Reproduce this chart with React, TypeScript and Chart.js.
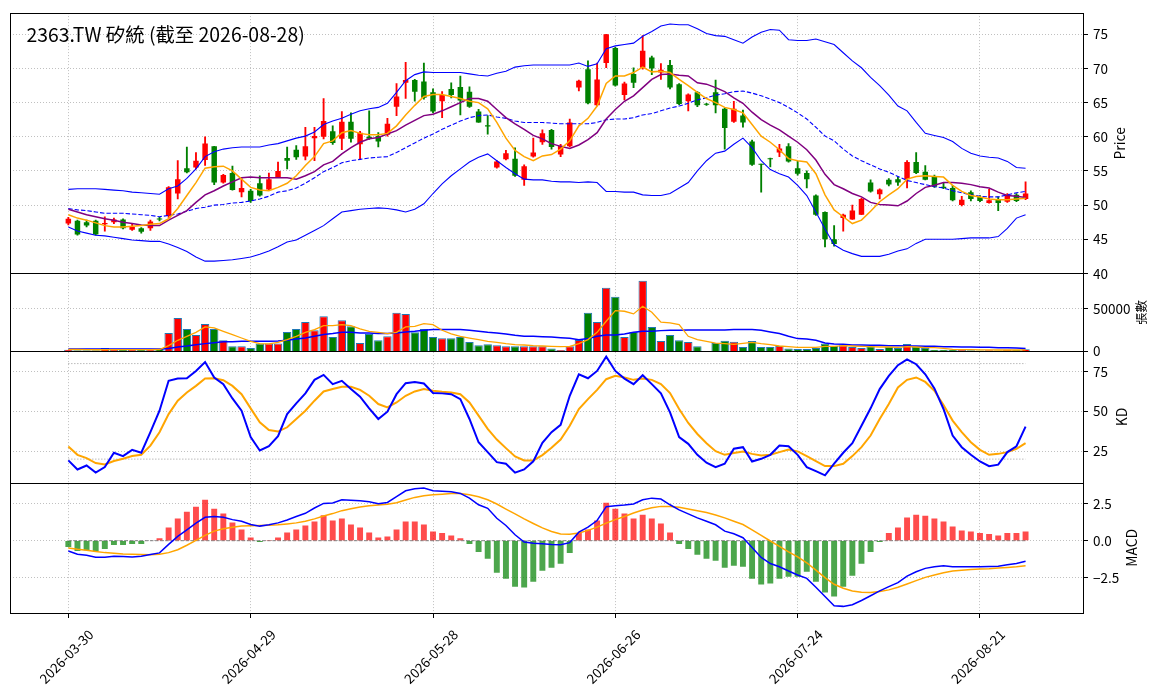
import { useEffect, useRef } from 'react';
import { Chart, registerables } from 'chart.js';

Chart.register(...registerables);

const FONT = '"Noto Sans CJK TC", "Noto Sans", sans-serif';
const GRID = '#b0b0b0';
const UP = '#ff0000';
const DOWN = '#008000';

const title = '2363.TW 矽統 (截至 2026-08-28)';
const dateTicks = [0, 20, 40, 60, 80, 100];
const dateLabels = ['2026-03-30', '2026-04-29', '2026-05-28', '2026-06-26', '2026-07-24', '2026-08-21'];

const priceTicks = [40, 45, 50, 55, 60, 65, 70, 75];
const volumeTicks = [0, 50000];
const kdTicks = [25, 50, 75];
const kdBands = [20, 80];
const macdTicks = [-2.5, 0, 2.5];

const open = [
  47.3, 47.7, 47.5, 47.7, 47.2, 47.5, 47.9, 46.4, 46.6, 46.6, 48.0,
  48.4, 51.7, 55.4, 55.5, 56.6, 58.6, 53.3, 54.7, 51.9, 52.1,
  53.2, 52.3, 54.1, 56.9, 58.1, 57.1, 59.8, 60.0, 60.8, 59.7,
  62.2, 58.9, 60.0, 60.1, 60.3, 64.4, 67.9, 68.3, 68.1, 66.5,
  65.2, 67.0, 67.3, 66.6, 63.7, 61.7, 55.5, 56.7, 56.8, 53.7,
  57.1, 59.2, 61.0, 57.4, 58.6, 67.2, 69.9, 64.6, 70.8, 73.0,
  66.1, 69.2, 70.1, 71.6, 69.4, 70.5, 67.7, 65.2, 66.5, 64.8,
  66.5, 64.1, 62.2, 63.1, 59.3, 56.0, 56.8, 57.7, 58.6, 55.4,
  54.7, 51.4, 49.0, 45.0, 48.1, 47.9, 48.6, 53.3, 51.6, 53.7,
  53.8, 53.8, 56.3, 54.9, 54.2, 52.7, 52.5, 50.0, 51.9, 51.2,
  50.3, 50.9, 50.5, 51.5, 50.9,
];
const high = [
  48.2, 47.8, 47.8, 47.8, 48.3, 48.1, 48.0, 47.3, 46.7, 47.8, 48.2,
  52.7, 56.5, 58.5, 57.7, 60.0, 58.6, 54.5, 55.7, 53.9, 52.3,
  54.3, 54.7, 56.3, 58.5, 58.7, 61.4, 61.4, 65.6, 61.6, 63.7,
  63.5, 60.8, 63.8, 60.6, 62.7, 67.8, 70.9, 68.4, 70.8, 67.0,
  66.6, 67.9, 68.9, 67.3, 64.0, 63.1, 56.5, 58.0, 58.4, 55.9,
  59.8, 61.0, 61.1, 58.9, 62.6, 68.3, 71.1, 70.8, 75.0, 73.1,
  68.0, 70.1, 74.8, 71.8, 70.7, 71.2, 67.8, 66.3, 66.6, 64.9,
  68.3, 64.2, 65.2, 63.9, 59.5, 56.0, 56.9, 58.9, 59.0, 56.4,
  55.0, 51.5, 49.0, 47.0, 48.7, 50.0, 51.0, 53.7, 52.4, 53.9,
  54.1, 56.5, 57.7, 55.8, 54.4, 53.3, 52.9, 51.3, 52.1, 51.4,
  52.3, 51.2, 51.7, 51.7, 53.4,
];
const low = [
  47.1, 45.6, 46.8, 45.6, 46.2, 47.3, 46.5, 46.3, 45.9, 46.3, 47.7,
  48.2, 50.9, 54.7, 55.3, 55.8, 53.0, 53.2, 52.2, 51.2, 50.4,
  51.3, 52.2, 54.0, 55.3, 56.7, 56.6, 56.5, 59.7, 58.9, 58.1,
  59.2, 56.7, 59.6, 58.5, 60.1, 63.1, 65.6, 65.2, 65.5, 63.5,
  62.8, 65.7, 63.2, 64.3, 62.1, 60.4, 55.4, 56.6, 54.2, 52.9,
  57.0, 58.9, 58.2, 57.1, 58.5, 66.7, 64.8, 64.5, 70.1, 67.4,
  65.4, 67.2, 69.9, 69.1, 68.4, 67.0, 64.7, 63.8, 64.4, 64.6,
  63.5, 58.2, 62.1, 61.4, 55.8, 51.9, 55.6, 57.1, 56.3, 54.4,
  52.5, 48.5, 43.9, 44.0, 46.2, 47.9, 48.6, 51.9, 50.9, 52.8,
  52.9, 52.5, 54.6, 53.7, 52.6, 52.4, 50.6, 49.9, 50.6, 50.5,
  50.3, 49.2, 50.4, 50.5, 50.8,
];
const close = [
  48.0, 45.7, 47.0, 45.7, 47.4, 47.9, 46.6, 46.8, 46.1, 47.6, 47.9,
  52.6, 53.8, 54.8, 56.5, 59.0, 53.3, 54.4, 52.2, 52.5, 50.6,
  51.4, 53.8, 55.0, 56.5, 57.0, 58.6, 60.1, 62.3, 59.1, 62.2,
  59.7, 60.6, 59.7, 59.3, 61.9, 65.9, 68.3, 66.6, 65.7, 63.7,
  66.1, 66.1, 65.3, 64.4, 62.1, 61.5, 56.4, 57.6, 54.3, 55.7,
  57.7, 60.5, 58.5, 58.7, 62.1, 68.2, 64.9, 68.4, 75.0, 67.5,
  67.8, 67.9, 72.6, 70.0, 69.8, 67.2, 64.8, 66.2, 64.6, 64.7,
  64.6, 61.3, 64.1, 62.1, 55.9, 55.9, 56.7, 58.3, 56.4, 54.6,
  53.8, 48.6, 45.0, 44.3, 48.6, 49.2, 50.9, 52.0, 52.3, 53.0,
  53.3, 56.3, 54.7, 53.7, 52.7, 52.5, 50.7, 50.8, 50.9, 50.6,
  50.7, 50.3, 51.4, 50.6, 51.7,
];

const ma5 = [
  48.6, 48.1, 47.8, 47.4, 47.0, 46.8, 46.8, 46.9, 47.0, 47.2, 47.3,
  48.0, 49.5, 51.4, 53.3, 55.4, 55.6, 55.7, 55.0, 53.8, 52.6,
  52.2, 52.1, 52.6, 53.2, 54.3, 55.8, 57.1, 59.0, 59.4, 60.6,
  60.9, 60.5, 60.3, 60.3, 60.5, 61.6, 63.2, 64.6, 65.9, 66.2,
  66.2, 65.9, 65.6, 65.2, 65.0, 64.1, 62.1, 59.8, 58.0, 57.1,
  56.5, 57.2, 57.4, 58.2, 59.4, 61.6, 62.7, 64.5, 67.8, 68.9,
  68.9, 69.4, 70.2, 69.5, 69.6, 69.4, 68.4, 67.5, 66.5, 65.6,
  65.0, 64.3, 64.0, 63.5, 61.8, 60.1, 59.2, 58.1, 56.8, 56.5,
  56.3, 54.6, 51.5, 49.3, 48.3, 47.3, 47.8, 49.1, 50.5, 51.5,
  52.4, 53.8, 54.2, 54.3, 54.2, 54.1, 52.9, 52.0, 51.4, 51.2,
  50.9, 50.8, 50.8, 50.9, 51.0,
];
const ma10 = [
  49.4, 49.0, 48.6, 48.3, 48.0, 47.8, 47.5, 47.3, 47.1, 47.0, 47.0,
  47.8, 48.5, 49.2, 50.4, 51.5, 52.1, 52.8, 53.4, 54.0, 54.1,
  54.0, 54.0, 54.0, 54.0, 53.8, 54.3, 54.9, 55.9, 56.4, 57.5,
  58.4, 59.2, 59.7, 59.9, 60.4, 60.9, 61.7, 62.4, 63.1, 63.3,
  63.8, 64.4, 65.0, 65.6, 65.6, 65.2, 64.0, 62.8, 61.9, 61.1,
  60.2, 59.7, 59.0, 58.6, 58.3, 58.8, 59.6, 60.6, 62.6, 64.0,
  65.2, 66.0, 67.2, 68.4, 69.1, 69.2, 69.0, 68.9, 67.9, 67.7,
  67.2, 66.6, 65.7, 64.9, 63.6, 62.5, 61.7, 61.0, 60.1, 59.2,
  58.1, 56.6, 54.5, 53.0, 52.4, 51.7, 51.2, 50.4, 50.1, 50.0,
  49.9, 50.6, 51.7, 52.6, 52.9, 53.3, 53.3, 53.2, 53.0, 52.7,
  52.5, 51.9, 51.4, 51.3, 51.1,
];
const bbUpper = [
  52.3, 52.4, 52.4, 52.4, 52.3, 52.2, 52.1, 51.9, 51.8, 51.7, 51.6,
  52.4, 52.8, 53.9, 55.3, 57.1, 57.8, 58.2, 58.4, 58.5, 58.5,
  58.5, 58.8, 59.0, 59.4, 59.8, 60.1, 60.7, 61.8, 62.3, 62.7,
  63.3, 63.8, 64.1, 64.3, 64.9, 66.5, 68.2, 69.1, 69.5, 69.4,
  69.4, 69.4, 69.4, 69.2, 69.0, 68.9, 69.3, 69.6, 70.2, 70.4,
  70.5, 70.5, 70.5, 70.5, 70.5, 70.8, 70.3, 70.7, 72.9, 73.3,
  73.5, 73.7, 74.7, 75.4, 76.2, 76.5, 76.4, 76.4, 75.8, 75.1,
  74.8, 74.7, 74.2, 73.7, 74.6, 75.3, 75.7, 75.6, 74.2, 74.1,
  74.1, 74.3, 73.9, 73.5, 72.3, 71.1, 70.1, 68.7, 67.5, 66.1,
  64.5, 63.8, 62.1, 60.5, 60.2, 59.9, 59.3, 58.3, 57.6, 57.2,
  57.0, 56.9, 56.4, 55.5, 55.4,
];
const bbMid = [
  49.5, 49.3, 49.2, 49.0, 48.8, 48.8, 48.8, 48.7, 48.6, 48.5, 48.3,
  48.5, 48.7, 49.1, 49.5, 49.7, 50.0, 50.1, 50.3, 50.4, 50.6,
  50.9, 51.3, 51.9, 52.1, 52.5, 53.2, 54.0, 54.9, 55.5, 56.2,
  56.5, 56.7, 56.9, 57.0, 57.1, 57.7, 58.4, 59.1, 59.8, 60.4,
  61.1, 61.7, 62.3, 62.8, 63.1, 63.2, 62.9, 62.7, 62.3, 62.1,
  62.1, 62.1, 62.0, 61.9, 61.9, 61.9, 61.9, 62.1, 62.5, 62.6,
  62.6, 62.8, 63.2, 63.4, 63.8, 64.2, 64.5, 64.9, 65.4, 65.7,
  66.1, 66.3, 66.6, 66.7, 66.4, 66.0, 65.5, 65.0, 64.3, 63.5,
  62.6, 61.4, 60.1, 59.4, 58.2, 57.2, 56.5, 55.9, 55.3, 54.8,
  54.2, 53.6, 53.3, 53.0, 52.7, 52.5, 52.1, 51.8, 51.5, 51.3,
  51.2, 51.2, 51.5, 51.8, 52.0,
];
const bbLower = [
  46.8, 46.2, 45.9, 45.6, 45.5, 45.3, 45.1, 44.9, 44.8, 44.7, 44.7,
  44.3, 43.8, 43.2, 42.4, 41.8, 41.8, 41.9, 42.0, 42.2, 42.4,
  42.8, 43.3, 43.9, 44.6, 44.9, 45.6, 46.3, 47.0, 48.0, 49.0,
  49.2, 49.4, 49.5, 49.6, 49.5, 49.3, 49.0, 49.4, 50.2, 51.7,
  53.1, 54.3, 55.3, 56.3, 57.0, 57.5, 56.5, 55.5, 54.6, 53.8,
  53.7, 53.7, 53.5, 53.4, 53.4, 53.3, 53.4, 53.3, 52.0, 52.0,
  51.9, 51.9, 51.5, 51.4, 51.4, 51.7, 52.5, 53.3, 55.0, 56.5,
  57.6, 57.9, 58.9, 59.8, 58.4, 56.5, 55.2, 54.6, 54.1, 52.9,
  51.4, 49.0, 46.5, 44.2, 43.4, 42.9, 42.5, 42.5, 42.5, 42.8,
  43.3, 43.6, 44.4, 45.0, 45.0, 45.0, 45.0, 45.1, 45.2, 45.2,
  45.2, 45.4, 46.6, 48.1, 48.6,
];

const volume = [
  2000, 1200, 1200, 1200, 3900, 2000, 2000, 2000, 2000, 2000, 2800,
  21700, 39400, 26400, 19300, 32300, 26400, 13000, 5900, 5900, 3900,
  9100, 9100, 9100, 22800, 26400, 34600, 24800, 41300, 16900, 36600,
  29500, 9800, 20500, 13000, 17700, 45300, 44100, 22400, 26400, 16900,
  15400, 15400, 16900, 11000, 7100, 8300, 7100, 5900, 5900, 5900,
  5900, 5900, 3500, 1600, 5900, 13400, 45300, 34600, 74800, 64200,
  16900, 22800, 83100, 28700, 12200, 19300, 13000, 11000, 5900, 400,
  9800, 12600, 11400, 5100, 12200, 5100, 5100, 6300, 3500, 2800,
  2800, 3900, 9100, 6300, 7100, 5100, 3900, 5900, 2800, 5100,
  3900, 8700, 5900, 3900, 2000, 2000, 2000, 1500, 1200, 1000,
  1300, 1100, 1800, 1500, 2500,
];
const volMa5 = [
  2400, 2200, 2000, 1900, 1900, 2000, 2000, 2100, 2100, 2000, 2200,
  6700, 13000, 17700, 22400, 28700, 27600, 23600, 19700, 15700, 11800,
  9100, 8700, 10600, 13800, 17700, 22400, 25600, 30300, 30300, 31500,
  30300, 26400, 23600, 22400, 20900, 22400, 28700, 29500, 32700, 31500,
  24800, 20500, 17700, 15700, 13800, 11800, 10600, 9100, 7900, 7500,
  6700, 6300, 5900, 5500, 5900, 9100, 13800, 22400, 35400, 48000,
  47200, 44100, 53100, 46100, 34300, 33500, 31500, 17700, 13800, 11800,
  9800, 9100, 8300, 9400, 10600, 9100, 7900, 6300, 5500, 4700,
  4700, 4700, 5900, 5900, 6700, 6300, 5900, 5500, 5100, 5100,
  4700, 5500, 5100, 4300, 4300, 3500, 2400, 2000, 2000, 1800,
  1700, 1600, 1600, 1600, 1700,
];
const volMa20 = [
  2800, 2800, 2800, 2700, 2700, 2700, 2700, 2700, 2700, 2800, 2800,
  3500, 5100, 6300, 7900, 9100, 10200, 11400, 11400, 11800, 11800,
  11800, 11800, 12200, 13000, 14600, 15700, 17700, 19700, 20900, 22400,
  22400, 21700, 21700, 20900, 20900, 21700, 22800, 23600, 24800, 25600,
  25600, 25600, 25600, 24800, 23600, 22400, 21700, 20500, 18900, 17700,
  17700, 17300, 16900, 16100, 15400, 13800, 15000, 17700, 19300, 19300,
  20500, 22400, 23600, 23600, 24400, 24800, 24800, 25200, 25200, 25200,
  25200, 25200, 25600, 25600, 25600, 24800, 22800, 20900, 17700, 15000,
  14600, 13000, 9800, 8700, 8300, 7500, 7500, 7100, 7100, 6700,
  6700, 6300, 6300, 5900, 5900, 5500, 5500, 5100, 5100, 4700,
  4700, 4300, 4300, 3900, 3500,
];

const kLine = [
  19.2, 13.5, 16.0, 11.5, 15.0, 24.0, 21.9, 25.8, 24.0, 36.9, 50.4,
  69.2, 70.6, 70.8, 75.4, 81.0, 71.3, 67.1, 58.1, 50.4, 33.8,
  25.4, 28.1, 34.4, 48.3, 55.0, 61.3, 69.8, 72.9, 67.1, 69.2,
  64.0, 59.2, 51.9, 45.2, 49.8, 60.8, 67.7, 68.5, 67.5, 61.5,
  61.3, 60.8, 57.7, 45.2, 30.6, 24.4, 18.1, 17.1, 11.5, 13.5,
  18.6, 30.2, 36.9, 41.5, 59.8, 73.3, 70.8, 75.4, 84.4, 75.4,
  70.6, 67.1, 72.7, 67.1, 61.3, 49.4, 33.8, 29.6, 22.7, 17.7,
  15.0, 17.1, 26.5, 27.5, 18.5, 20.2, 22.7, 28.5, 28.1, 22.7,
  15.0, 12.5, 9.8, 17.1, 24.0, 30.0, 41.0, 51.9, 64.0, 72.3,
  79.0, 82.7, 79.6, 73.3, 64.4, 51.5, 34.8, 27.5, 22.7, 18.5,
  15.6, 16.5, 24.4, 28.1, 40.4,
];
const dLine = [
  27.9, 22.7, 20.6, 17.5, 16.7, 18.8, 20.2, 21.9, 22.7, 28.5, 36.9,
  48.3, 56.7, 61.9, 66.0, 70.6, 70.8, 69.6, 66.0, 60.8, 51.9,
  43.1, 38.3, 37.3, 40.0, 45.2, 50.4, 56.7, 62.5, 64.0, 65.4,
  65.4, 63.5, 59.8, 54.6, 52.5, 55.6, 59.8, 62.5, 64.0, 62.9,
  62.3, 61.9, 60.8, 55.6, 47.3, 39.0, 32.3, 26.9, 21.7, 19.2,
  19.2, 22.5, 27.1, 32.3, 41.0, 51.5, 57.7, 63.5, 70.2, 72.3,
  71.3, 69.8, 70.6, 69.8, 67.1, 61.5, 51.5, 42.7, 35.8, 30.0,
  25.0, 22.7, 23.8, 24.8, 23.3, 22.3, 22.7, 24.4, 26.0, 24.8,
  21.9, 18.8, 15.6, 15.6, 17.1, 21.9, 27.5, 34.8, 45.2, 54.6,
  65.0, 69.8, 71.3, 68.5, 62.9, 54.0, 44.2, 36.9, 30.6, 25.8,
  22.7, 23.3, 24.4, 26.5, 30.0,
];

const macdHist = [
  -0.43, -0.70, -0.65, -0.72, -0.56, -0.29, -0.29, -0.22, -0.22, -0.02, 0.16,
  0.90, 1.50, 1.97, 2.31, 2.78, 2.17, 1.84, 1.23, 0.76, 0.22,
  -0.09, 0.02, 0.22, 0.56, 0.76, 1.03, 1.30, 1.73, 1.37, 1.50,
  1.10, 0.90, 0.56, 0.22, 0.29, 0.76, 1.30, 1.30, 1.10, 0.63,
  0.52, 0.36, 0.16, -0.22, -0.76, -1.23, -2.17, -2.58, -3.12, -3.18,
  -2.78, -2.04, -1.84, -1.57, -0.83, 0.52, 0.76, 1.37, 2.58, 2.17,
  1.84, 1.50, 1.77, 1.50, 1.17, 0.56, -0.22, -0.56, -0.96, -1.23,
  -1.37, -1.84, -1.70, -1.77, -2.58, -2.98, -2.91, -2.58, -2.44, -2.44,
  -2.11, -2.78, -3.52, -3.79, -3.12, -2.38, -1.57, -0.76, -0.09, 0.52,
  0.90, 1.57, 1.77, 1.70, 1.50, 1.30, 0.96, 0.70, 0.63, 0.52,
  0.45, 0.36, 0.52, 0.52, 0.63,
];
const dif = [
  -0.70, -0.92, -0.99, -1.12, -1.12, -1.05, -1.08, -1.10, -1.05, -0.94, -0.83,
  -0.25, 0.29, 0.74, 1.19, 1.59, 1.64, 1.59, 1.43, 1.32, 1.10,
  0.99, 1.08, 1.21, 1.41, 1.64, 1.86, 2.22, 2.53, 2.56, 2.78,
  2.74, 2.71, 2.65, 2.51, 2.60, 3.00, 3.39, 3.52, 3.57, 3.39,
  3.36, 3.32, 3.21, 2.89, 2.44, 2.20, 1.52, 1.03, 0.40, -0.09,
  -0.18, -0.20, -0.25, -0.27, -0.13, 0.58, 0.92, 1.37, 2.31, 2.38,
  2.42, 2.49, 2.78, 2.89, 2.83, 2.44, 2.09, 1.82, 1.55, 1.32,
  1.08, 0.65, 0.47, 0.20, -0.47, -1.14, -1.55, -1.77, -2.06, -2.33,
  -2.56, -3.16, -3.79, -4.42, -4.46, -4.35, -4.06, -3.74, -3.41, -3.12,
  -2.85, -2.40, -2.11, -1.88, -1.77, -1.70, -1.77, -1.77, -1.77, -1.77,
  -1.75, -1.73, -1.64, -1.55, -1.39,
];
const dea = [
  -0.49, -0.58, -0.65, -0.74, -0.81, -0.85, -0.90, -0.92, -0.94, -0.96, -0.92,
  -0.81, -0.61, -0.31, 0.02, 0.36, 0.65, 0.81, 0.92, 0.99, 1.01,
  1.03, 1.05, 1.08, 1.14, 1.21, 1.32, 1.48, 1.68, 1.84, 2.04,
  2.17, 2.29, 2.38, 2.42, 2.47, 2.58, 2.76, 2.94, 3.05, 3.12,
  3.16, 3.21, 3.21, 3.12, 2.98, 2.78, 2.49, 2.15, 1.82, 1.48,
  1.17, 0.87, 0.63, 0.45, 0.43, 0.52, 0.70, 0.92, 1.19, 1.43,
  1.64, 1.88, 2.09, 2.24, 2.33, 2.33, 2.27, 2.15, 2.04, 1.91,
  1.75, 1.55, 1.32, 1.10, 0.74, 0.36, -0.02, -0.38, -0.76, -1.10,
  -1.50, -2.00, -2.51, -2.96, -3.23, -3.41, -3.50, -3.52, -3.45, -3.34,
  -3.16, -2.94, -2.71, -2.49, -2.33, -2.17, -2.06, -2.00, -1.95, -1.93,
  -1.91, -1.86, -1.82, -1.77, -1.70,
];

const points = (arr: number[]) => arr.map((y, x) => ({ x, y }));
const lastIndex = open.length - 1;
const flat = (v: number) => [{ x: 0, y: v }, { x: lastIndex, y: v }];

const lineSet = (data: number[], yAxisID: string, color: string, width: number, dash: number[] = []) => ({
  type: 'line' as const,
  data: points(data),
  yAxisID,
  borderColor: color,
  borderWidth: width,
  borderDash: dash,
  pointRadius: 0,
  tension: 0,
  fill: false,
  order: 0,
});

const yScale = (weight: number, min: number, max: number, ticks: number[], fmt: (v: number) => string) => ({
  type: 'linear' as const,
  position: 'right' as const,
  stack: 'panels',
  stackWeight: weight,
  min,
  max,
  afterBuildTicks: (s: any) => {
    s.ticks = ticks.map((value) => ({ value }));
  },
  afterFit: (s: any) => {
    s.width = 80;
  },
  grid: { color: GRID, lineWidth: 0.8, tickLength: 5, tickColor: '#000', tickWidth: 1 },
  border: { display: false, dash: [1, 2] },
  ticks: {
    color: '#000',
    padding: 5,
    autoSkip: false,
    font: { family: FONT, size: 13.5 },
    callback: (v: any) => fmt(Number(v)),
  },
});

const minus = (v: number) => (v < 0 ? '\u2212' + Math.abs(v).toFixed(1) : v.toFixed(1));

const App = () => {
  const canvasRef = useRef<HTMLCanvasElement | null>(null);

  useEffect(() => {
    document.body.style.margin = '0';
    if (!canvasRef.current) return;

    const candleColor = open.map((o, i) => (close[i] >= o ? UP : DOWN));
    const idx = open.map((_, i) => i);

    const decor = {
      id: 'decor',
      afterDraw(chart: any) {
        const { ctx, chartArea: a, scales } = chart;
        ctx.save();
        ctx.strokeStyle = '#000';
        ctx.lineWidth = 1;
        for (const id of ['price', 'vol', 'kd', 'macd']) {
          const s = scales[id];
          const top = Math.round(s.top) + 0.5;
          const bottom = Math.round(s.bottom) + 0.5;
          ctx.strokeRect(Math.round(a.left) + 0.5, top, Math.round(a.right - a.left), bottom - top);
        }

        ctx.fillStyle = '#000';
        ctx.font = `19.4px ${FONT}`;
        ctx.textAlign = 'left';
        ctx.textBaseline = 'alphabetic';
        ctx.fillText(title, a.left + 16.5, a.top + 28.7);

        const sideTitles: [string, string, number, number][] = [
          ['price', 'Price', 13.9, 42],
          ['vol', '張數', 12.5, 63],
          ['kd', 'KD', 13.9, 44],
          ['macd', 'MACD', 13.9, 54],
        ];
        for (const [id, text, size, dx] of sideTitles) {
          const s = scales[id];
          ctx.save();
          ctx.translate(a.right + dx, (s.top + s.bottom) / 2);
          ctx.rotate(-Math.PI / 2);
          ctx.font = `${size}px ${FONT}`;
          ctx.textAlign = 'center';
          ctx.textBaseline = 'alphabetic';
          ctx.fillText(text, 0, 0);
          ctx.restore();
        }

        ctx.font = `13.5px ${FONT}`;
        dateTicks.forEach((v, k) => {
          const px = scales.x.getPixelForValue(v);
          ctx.save();
          ctx.translate(px - 2, a.bottom + 43.5);
          ctx.rotate(-Math.PI / 4);
          ctx.textAlign = 'center';
          ctx.textBaseline = 'middle';
          ctx.fillText(dateLabels[k], 0, 0);
          ctx.restore();
        });
        ctx.restore();
      },
    };

    const chart = new Chart(canvasRef.current, {
      type: 'bar',
      data: {
        datasets: [
          lineSet(ma5, 'price', '#ffa500', 1.5),
          lineSet(ma10, 'price', '#800080', 1.5),
          lineSet(bbUpper, 'price', '#0000ff', 1.1),
          lineSet(bbMid, 'price', '#0000ff', 1.1, [4.4, 2]),
          lineSet(bbLower, 'price', '#0000ff', 1.1),
          {
            type: 'bar',
            data: idx.map((i) => ({ x: i, y: [Math.min(open[i], close[i]), Math.max(open[i], close[i])] })),
            yAxisID: 'price',
            backgroundColor: candleColor,
            barPercentage: 0.6,
            categoryPercentage: 1,
            grouped: false,
            minBarLength: 1,
            order: 1,
          },
          {
            type: 'bar',
            data: idx.map((i) => ({ x: i, y: [low[i], high[i]] })),
            yAxisID: 'price',
            backgroundColor: candleColor,
            barThickness: 1.2,
            grouped: false,
            order: 2,
          },
          lineSet(volMa5, 'vol', '#ffa500', 1.3),
          lineSet(volMa20, 'vol', '#0000ff', 1.5),
          {
            type: 'bar',
            data: points(volume),
            yAxisID: 'vol',
            backgroundColor: candleColor,
            borderColor: '#1f77b4',
            borderWidth: 1,
            barPercentage: 0.92,
            categoryPercentage: 1,
            grouped: false,
            order: 1,
          },
          lineSet(kLine, 'kd', '#0000ff', 2),
          lineSet(dLine, 'kd', '#ffa500', 2),
          ...kdBands.map((b) => ({ ...lineSet([], 'kd', '#999999', 1, [1, 2]), data: flat(b), order: 3 })),
          lineSet(dif, 'macd', '#0000ff', 1.5),
          lineSet(dea, 'macd', '#ffa500', 1.5),
          { ...lineSet([], 'macd', '#808080', 1, [3.5, 1.6]), data: flat(0), order: 3 },
          {
            type: 'bar',
            data: points(macdHist),
            yAxisID: 'macd',
            backgroundColor: macdHist.map((v) => (v >= 0 ? 'rgba(255,0,0,0.7)' : 'rgba(0,128,0,0.7)')),
            barPercentage: 0.65,
            categoryPercentage: 1,
            grouped: false,
            order: 1,
          },
        ] as any,
      },
      options: {
        animation: false,
        responsive: true,
        maintainAspectRatio: false,
        events: [],
        layout: { padding: { left: 10, top: 10, right: 0, bottom: 0 } },
        plugins: {
          legend: { display: false },
          tooltip: { enabled: false },
        },
        scales: {
          x: {
            type: 'linear',
            position: 'bottom',
            offset: false,
            min: -6.4,
            max: 111.3,
            afterBuildTicks: (s: any) => {
              s.ticks = dateTicks.map((value) => ({ value }));
            },
            afterFit: (s: any) => {
              s.height = 85;
            },
            grid: { offset: false, color: GRID, lineWidth: 0.8, tickLength: 5, tickColor: '#000', tickWidth: 1 },
            border: { display: false, dash: [1, 2] },
            ticks: { display: false },
          },
          price: yScale(261.7, 40, 78.1, priceTicks, (v) => String(v)),
          vol: yScale(78.3, 0, 91700, volumeTicks, (v) => String(v)),
          kd: yScale(132, 5.2, 87.7, kdTicks, (v) => String(v)),
          macd: yScale(131, -4.91, 3.94, macdTicks, minus),
        } as any,
      },
      plugins: [decor],
    });

    return () => {
      chart.destroy();
    };
  }, []);

  return (
    <div style={{ width: 1163, height: 698, position: 'relative', background: '#fff' }}>
      <canvas ref={canvasRef} />
    </div>
  );
};

export default App;
